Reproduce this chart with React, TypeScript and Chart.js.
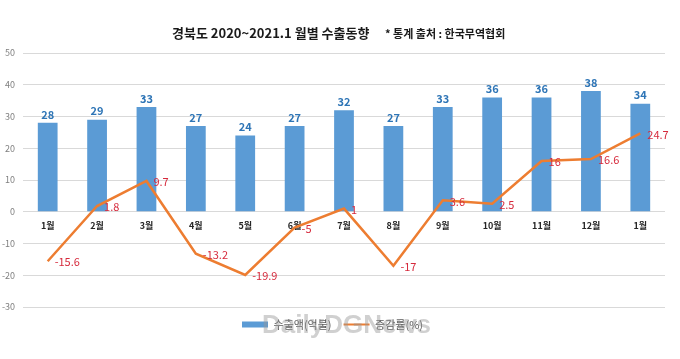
import React, { useEffect, useRef } from "react";
import { Chart, registerables } from "chart.js";

Chart.register(...registerables);

const categories = ["1월", "2월", "3월", "4월", "5월", "6월", "7월", "8월", "9월", "10월", "11월", "12월", "1월"];
const exportValues = [28, 29, 33, 27, 24, 27, 32, 27, 33, 36, 36, 38, 34];
const changeRates = [-15.6, 1.8, 9.7, -13.2, -19.9, -5, 1, -17, 3.6, 2.5, 16, 16.6, 24.7];
const yTicks = [-30, -20, -10, 0, 10, 20, 30, 40, 50];
const titleMain = "경북도 2020~2021.1 월별 수출동향";
const titleSource = "* 통계 출처 : 한국무역협회";
const seriesNames = ["수출액(억불)", "증감률(%)"];

const FONT = "'Noto Sans CJK KR', 'Noto Sans', sans-serif";

const overlayPlugin = {
  id: "overlay",
  afterDatasetsDraw(chart: any) {
    const ctx = chart.ctx;
    ctx.save();
    const barMeta = chart.getDatasetMeta(0);
    ctx.font = `bold 11px ${FONT}`;
    ctx.fillStyle = "#2e75b6";
    ctx.textAlign = "center";
    ctx.textBaseline = "bottom";
    barMeta.data.forEach((el: any, i: number) => {
      ctx.fillText(String(exportValues[i]), el.x, el.y - 3);
    });
    const lineMeta = chart.getDatasetMeta(1);
    ctx.font = `11px ${FONT}`;
    ctx.fillStyle = "#d62a3c";
    ctx.textAlign = "left";
    ctx.textBaseline = "middle";
    lineMeta.data.forEach((el: any, i: number) => {
      ctx.fillText(String(changeRates[i]), el.x + 7, el.y + 1);
    });
    ctx.restore();
  },
  afterDraw(chart: any) {
    const ctx = chart.ctx;
    ctx.save();
    ctx.fillStyle = "#1a1a1a";
    ctx.textBaseline = "middle";
    ctx.textAlign = "left";
    ctx.font = `bold 13px ${FONT}`;
    ctx.fillText(titleMain, 172, 33);
    ctx.font = `bold 11px ${FONT}`;
    ctx.fillText(titleSource, 385, 34);
    ctx.font = `bold 26px 'Liberation Sans', sans-serif`;
    ctx.fillStyle = "rgba(150,150,150,0.45)";
    ctx.textAlign = "left";
    ctx.fillText("DailyDGNews", 262, 326);
    ctx.restore();
  },
};

export default function App() {
  const ref = useRef<HTMLCanvasElement>(null);
  useEffect(() => {
    if (!ref.current) return;
    const chart = new Chart(ref.current, {
      type: "bar",
      data: {
        labels: categories,
        datasets: [
          {
            type: "bar",
            label: seriesNames[0],
            data: exportValues,
            backgroundColor: "#5b9bd5",
            borderWidth: 0,
            barPercentage: 0.8,
            categoryPercentage: 0.5,
            order: 2,
          },
          {
            type: "line",
            label: seriesNames[1],
            data: changeRates,
            borderColor: "#ed7d31",
            backgroundColor: "#ed7d31",
            borderWidth: 2.5,
            pointRadius: 0,
            tension: 0,
            order: 1,
          } as any,
        ],
      },
      options: {
        responsive: false,
        animation: false,
        devicePixelRatio: 1,
        layout: { padding: { top: 53, right: 15, left: 0, bottom: 19 } },
        plugins: {
          title: { display: false },
          tooltip: { enabled: false },
          legend: {
            display: true,
            position: "bottom",
            labels: {
              usePointStyle: true,
              pointStyleWidth: 26,
              boxHeight: 6,
              color: "#595959",
              font: { family: FONT, size: 11 },
              padding: 12,
              generateLabels: () => [
                {
                  text: seriesNames[0],
                  fillStyle: "#5b9bd5",
                  strokeStyle: "#5b9bd5",
                  lineWidth: 0,
                  pointStyle: "rect",
                  datasetIndex: 0,
                  fontColor: "#595959",
                },
                {
                  text: seriesNames[1],
                  fillStyle: "#ed7d31",
                  strokeStyle: "#ed7d31",
                  lineWidth: 2,
                  pointStyle: "line",
                  datasetIndex: 1,
                  fontColor: "#595959",
                },
              ],
            },
          },
        },
        scales: {
          x: {
            position: { y: 0 } as any,
            grid: { display: false, drawTicks: false },
            border: { display: false },
            ticks: {
              color: "#262626",
              font: { family: FONT, size: 9, weight: "bold" },
              padding: 8,
              maxRotation: 0,
              autoSkip: false,
            },
          },
          y: {
            min: -30,
            max: 50,
            afterBuildTicks: (scale: any) => {
              scale.ticks = yTicks.map((v) => ({ value: v }));
            },
            afterFit: (scale: any) => {
              scale.width = 23;
            },
            grid: { color: "#d9d9d9", drawTicks: false, lineWidth: 1 },
            border: { display: false },
            ticks: {
              color: "#7f7f7f",
              font: { family: FONT, size: 9 },
              padding: 8,
            },
          },
        },
      },
      plugins: [overlayPlugin],
    });
    return () => chart.destroy();
  }, []);
  return (
    <div style={{ position: "absolute", left: 0, top: 0, width: 680, height: 359, background: "#fff" }}>
      <canvas ref={ref} width={680} height={359} />
    </div>
  );
}
